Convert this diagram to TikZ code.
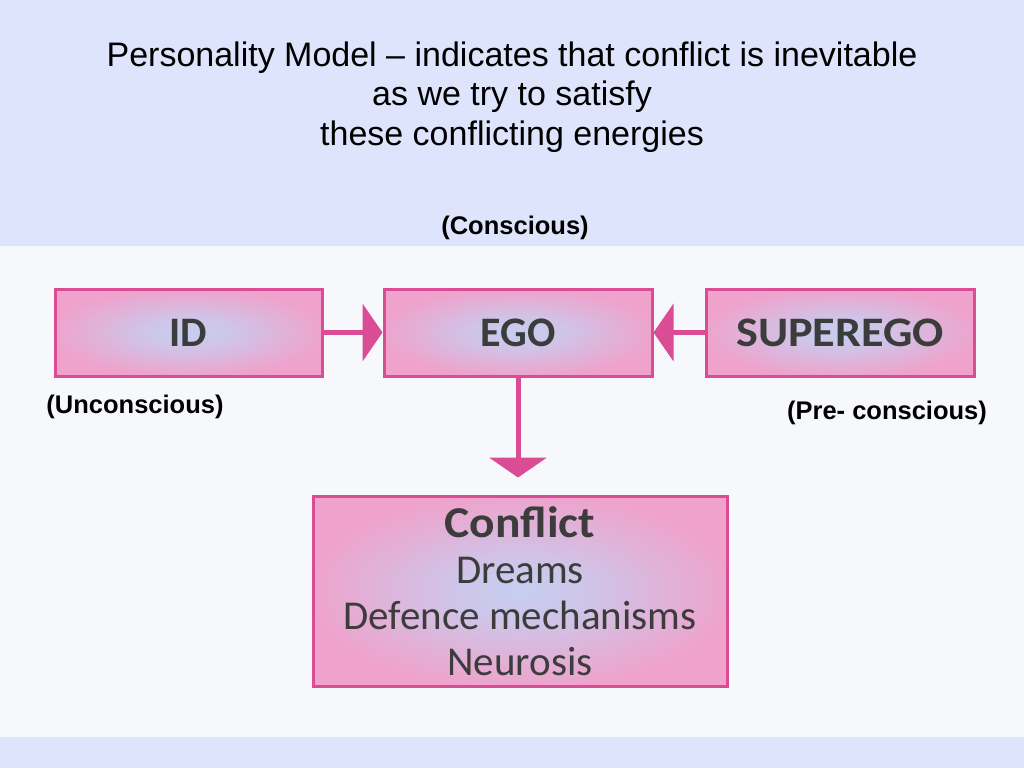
\documentclass[tikz,border=0pt]{standalone}
\usepackage{fontspec}
\setmainfont{Liberation Sans}
\newfontfamily\boxfont{Carlito}
\usetikzlibrary{arrows.meta}
\definecolor{bgl}{HTML}{DEE4FC}
\definecolor{scan}{HTML}{F7F8FC}
\definecolor{pinkb}{HTML}{DA4C94}
\definecolor{pinkf}{HTML}{EFA2CB}
\definecolor{bluec}{HTML}{C6CEF0}
\definecolor{txt}{HTML}{3C3C3C}
\pgfdeclareradialshading{boxshade}{\pgfpoint{0bp}{0bp}}{%
  color(0bp)=(bluec); color(8bp)=(bluec!80!pinkf); color(18bp)=(bluec!35!pinkf);
  color(26bp)=(pinkf); color(50bp)=(pinkf)}
\tikzset{
  box/.style={draw=pinkb, line width=3pt, shading=boxshade, text=txt, inner sep=0pt},
  boxlabel/.style={font=\boxfont\bfseries\fontsize{42}{46}\selectfont},
  arr/.style={draw=pinkb, line width=5pt, -{Triangle[length=20pt,width=57pt]}},
  lab/.style={font=\bfseries\fontsize{25.5}{30}\selectfont, text=black, inner sep=0pt},
}
\begin{document}
\begin{tikzpicture}[x=1pt,y=-1pt]
\fill[bgl] (0,0) rectangle (1024,768);
\useasboundingbox (0,0) rectangle (1024,768);
\fill[scan] (0,246) rectangle (1024,737);

\node[align=center, font=\fontsize{34}{39.5}\selectfont, inner sep=0pt] (title) at (512,97)
  {Personality Model – indicates that conflict is inevitable\\as we try to satisfy\\these conflicting energies};

\node[lab] (consc) at (515,228) {(Conscious)};
\node[lab] (uncon) at (135,407) {(Unconscious)};
\node[lab] (precon) at (887,413) {(Pre- conscious)};

\node[box, boxlabel, minimum width=267pt, minimum height=87pt] (id) at (188.5,332.5) {ID};
\node[box, boxlabel, minimum width=268pt, minimum height=87pt] (ego) at (518,332.5) {EGO};
\node[box, boxlabel, minimum width=268pt, minimum height=87pt] (sup) at (840,332.5) {\scalebox{1.1}[1]{SUPEREGO}};
\node[box, align=center, minimum width=414pt, minimum height=190pt,
  font=\boxfont\fontsize{41}{46}\selectfont] (conf) at (520,591)
  {{\bfseries\fontsize{44}{46}\selectfont\scalebox{1.08}[1]{Conflict}}\\Dreams\\Defence mechanisms\\Neurosis};

\draw[arr] (id.east) -- (ego.west);
\draw[arr] (sup.west) -- (ego.east);
\draw[arr, shorten >=17pt] (ego.south) -- (ego.south |- conf.north);
\end{tikzpicture}
\end{document}
